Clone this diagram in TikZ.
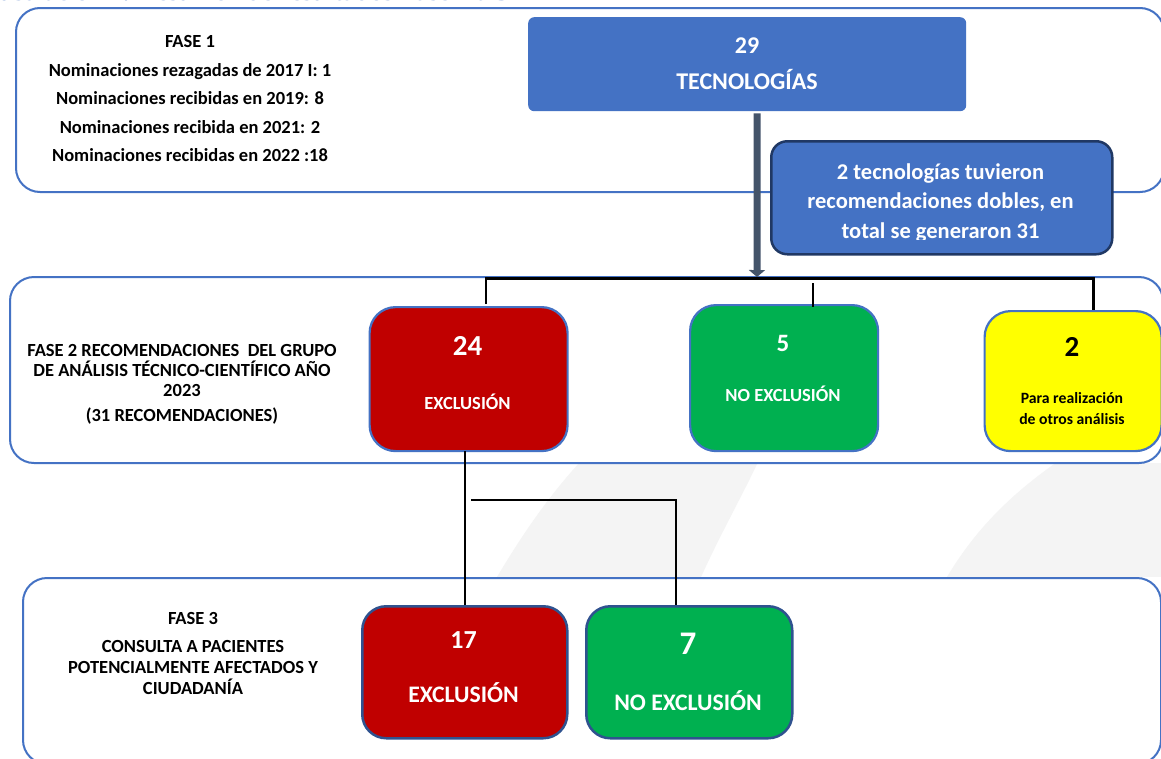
\documentclass[tikz,border=0pt]{standalone}
\usepackage{fontspec}
\setmainfont{Carlito}
\newfontfamily\titlefont{Liberation Serif}
\usetikzlibrary{arrows.meta}
\definecolor{fblue}{HTML}{4472C4}
\definecolor{navyb}{HTML}{203864}
\definecolor{darkb}{HTML}{2F528F}
\definecolor{redc}{HTML}{C00000}
\definecolor{greenc}{HTML}{00B050}
\definecolor{yellowc}{HTML}{FFFF00}
\definecolor{arrowc}{HTML}{44546A}
\definecolor{wm}{HTML}{F4F4F4}
\newcommand\myfs[1]{\fontsize{#1}{#1}\selectfont}
\begin{document}
\begin{tikzpicture}[x=1pt,y=-1pt,
  fase/.style={draw=fblue, line width=2pt, rounded corners=24pt, fill=white, inner sep=0pt, anchor=north west},
  card/.style={draw=fblue, line width=2.2pt, rounded corners=26pt, inner sep=0pt, anchor=north west},
  card3/.style={draw=darkb, line width=2.5pt, rounded corners=24pt, inner sep=0pt, anchor=north west},
  txt/.style={anchor=base, inner sep=0pt, font=\bfseries\myfs{18.5}},
  wtxt/.style={anchor=base, inner sep=0pt, text=white},
  link/.style={line width=2.5pt, black, line join=miter},
]
\useasboundingbox (0,0) rectangle (1161,758);
\fill[white] (0,0) rectangle (1161,758);
% watermark
\begin{scope}
\clip (0,463) rectangle (1161,576);
\fill[wm] (497,577) .. controls (525,530) and (550,495) .. (580,462) -- (758,462) .. controls (740,500) and (720,535) .. (701,577) -- cycle;
\fill[wm] (947,577) .. controls (975,530) and (1010,495) .. (1057,462) -- (1170,462) -- (1170,577) -- cycle;
\end{scope}
% title (cut at the top)
\node[anchor=base east, inner sep=0pt, text=fblue, font=\titlefont\bfseries\myfs{26}] (title) at (509,0.5) {Ilustración 2. Resumen de resultados Fase 1 a 3};
% phase frames
\node[fase, minimum width=1148pt, minimum height=184pt] (f1) at (15,7) {};
\node[fase, minimum width=1153pt, minimum height=186pt] (f2) at (9,276) {};
\node[fase, minimum width=1138pt, minimum height=186pt] (f3) at (22,577) {};
% phase 1 text
\node[txt] (p1a) at (190,47.5) {FASE 1};
\node[txt] (p1b) at (190,76) {Nominaciones rezagadas de 2017 I: 1};
\node[txt] (p1c) at (190,104.5) {Nominaciones recibidas en 2019: 8};
\node[txt] (p1d) at (190,133) {Nominaciones recibida en 2021: 2};
\node[txt] (p1e) at (190,161.5) {Nominaciones recibidas en 2022 :18};
% phase 2 text
\node[txt] (p2a) at (182,356) {FASE 2 RECOMENDACIONES\ \ DEL GRUPO};
\node[txt] (p2b) at (182,376) {DE ANÁLISIS TÉCNICO-CIENTÍFICO AÑO};
\node[txt] (p2c) at (182,396) {2023};
\node[txt] (p2d) at (182,421) {(31 RECOMENDACIONES)};
% phase 3 text
\node[txt] (p3a) at (193,624) {FASE 3};
\node[txt] (p3b) at (193,652) {CONSULTA A PACIENTES};
\node[txt] (p3c) at (193,673) {POTENCIALMENTE AFECTADOS Y};
\node[txt] (p3d) at (193,694) {CIUDADANÍA};
% top boxes
\node[fill=fblue, rounded corners=6pt, minimum width=438pt, minimum height=94pt, anchor=north west, inner sep=0pt] (b29) at (528,17) {};
\node[wtxt, font=\bfseries\myfs{24}] (b29n) at (747,53.7) {29};
\node[wtxt, font=\bfseries\myfs{24}] (b29t) at (747,89.7) {TECNOLOGÍAS};
\coordinate (atip) at (757,277);
\draw[line width=7pt, arrowc, -{Triangle[width=16pt,length=7pt]}] ([xshift=10pt,yshift=-2pt]b29.south) -- (atip);
\node[fill=fblue, draw=navyb, line width=2.5pt, rounded corners=16pt, minimum width=341pt, minimum height=113pt, anchor=north west, inner sep=0pt] (b2) at (770,140) {};
\begin{scope}
\clip (770,140) rectangle (1111,239.5);
\node[wtxt, font=\bfseries\myfs{22.5}] (b2a) at (940.5,179) {2 tecnologías tuvieron};
\node[wtxt, font=\bfseries\myfs{22.5}] (b2b) at (940.5,208.5) {recomendaciones dobles, en};
\node[wtxt, font=\bfseries\myfs{22.5}] (b2c) at (940.5,238) {total se generaron 31};
\end{scope}
% phase 2 cards
\node[card, fill=redc, minimum width=198pt, minimum height=144pt] (b24) at (368.5,306) {};
\node[wtxt, font=\bfseries\myfs{29}] (b24n) at (467.5,355.3) {24};
\node[wtxt, font=\bfseries\myfs{18.5}] (b24t) at (467.5,409) {EXCLUSIÓN};
\node[card, fill=greenc, minimum width=188pt, minimum height=146pt] (b5) at (689,304) {};
\node[wtxt, font=\bfseries\myfs{25}] (b5n) at (783,351) {5};
\node[wtxt, font=\bfseries\myfs{18.5}] (b5t) at (783,401) {NO EXCLUSIÓN};
\node[card, fill=yellowc, minimum width=177pt, minimum height=140pt] (by) at (983.5,310) {};
\node[anchor=base, inner sep=0pt, font=\bfseries\myfs{29}] (byn) at (1072,356.3) {2};
\node[anchor=base, inner sep=0pt, font=\bfseries\myfs{15.7}] (byt1) at (1072,403.5) {Para realización};
\node[anchor=base, inner sep=0pt, font=\bfseries\myfs{15.7}] (byt2) at (1072,424.5) {de otros análisis};
% connectors phase 2
\coordinate (h1) at (486,278.5);
\coordinate (h3) at (1093.5,278.5);
\coordinate (h2) at (813,283);
\draw[link] ([yshift=2pt]h1 |- b24.north) -- (h1) -- (h3) -- (h3 |- by.north);
\draw[link] (h2) -- ([yshift=-3pt]h2 |- b5.north);
% phase 3 cards
\node[card3, fill=redc, minimum width=205pt, minimum height=132pt] (b17) at (361,605) {};
\node[wtxt, font=\bfseries\myfs{26}] (b17n) at (463.5,648.4) {17};
\node[wtxt, font=\bfseries\myfs{23.7}] (b17t) at (463.5,702.6) {EXCLUSIÓN};
\node[card3, fill=greenc, minimum width=206pt, minimum height=132pt] (b7) at (585,605) {};
\node[wtxt, font=\bfseries\myfs{33}] (b7n) at (688,654.6) {7};
\node[wtxt, font=\bfseries\myfs{23.7}] (b7t) at (688,710.6) {NO EXCLUSIÓN};
% connectors phase 3
\coordinate (v1) at (465,451);
\coordinate (v2) at (471,500);
\coordinate (v3) at (676,500);
\draw[link] (v1) -- (v1 |- b17.north);
\draw[link] (v2) -- (v3) -- (v3 |- b7.north);
\end{tikzpicture}
\end{document}
